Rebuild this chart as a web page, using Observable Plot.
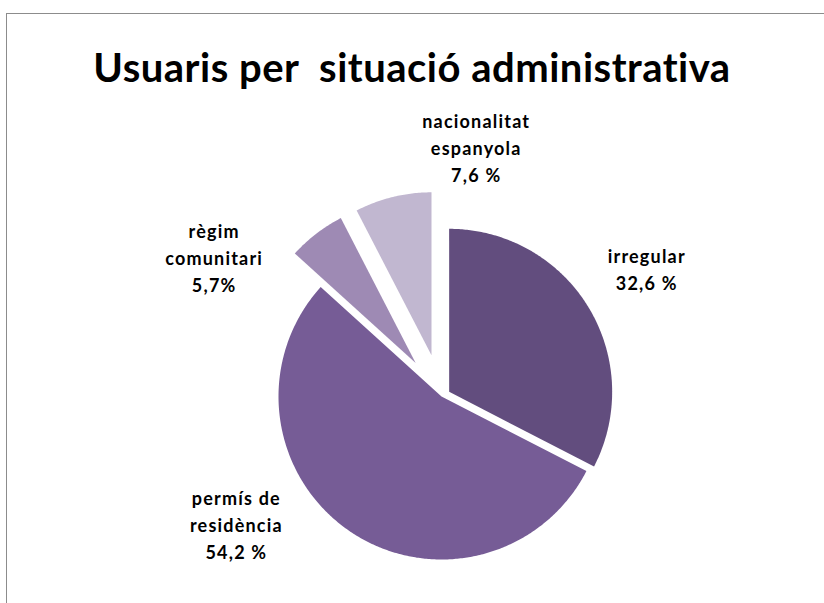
<!DOCTYPE html>
<html>
<head>
<meta charset="utf-8">
<script src="https://cdn.jsdelivr.net/npm/d3@7"></script>
<script src="https://cdn.jsdelivr.net/npm/@observablehq/plot@0.6"></script>
<style>
  html, body { margin: 0; padding: 0; background: #fff; }
  #wrap { position: relative; width: 824px; height: 603px; overflow: hidden; background: #fff; }
  #frame { position: absolute; left: 6px; top: 13px; width: 1000px; height: 1000px;
           border: 1.5px solid #8c8c8c; box-sizing: border-box; }
  #title { position: absolute; left: 0; width: 824px; top: 44px; text-align: center;
           font-family: Lato, sans-serif; font-weight: 700; font-size: 40px; color: #000;
           white-space: pre; line-height: 46px; letter-spacing: 0.5px; }
  #chart { position: absolute; left: 0; top: 0; }
  #chart svg text { letter-spacing: 1.2px; }
</style>
</head>
<body>
<div id="wrap">
  <div id="frame"></div>
  <div id="chart"></div>
  <div id="title"></div>
</div>
<script>
// ---- data ----
const titleText = "Usuaris per  situació administrativa";
const categories = ["irregular", "permís de\nresidència", "règim\ncomunitari", "nacionalitat\nespanyola"];
const values = [32.6, 54.2, 5.7, 7.6];
const valueLabels = ["32,6 %", "54,2 %", "5,7%", "7,6 %"];

// ---- style / layout ----
const colors = ["#624d7e", "#765c96", "#9e8ab4", "#c1b7d0"];
const explode = [0.055, 0, 0.26, 0.26];            // in radius units
const labelNudge = [[0, 0.02], [-0.45, 0.39], [-0.37, -0.47], [0.61, -0.10]]; // radius units (x right, y up)
const W = 824, H = 603, R = 163, CX = 441, CY = 396;

document.getElementById("title").textContent = titleText;

const pie = d3.pie().sort(null).value(d => d)(values);
const polys = [];
const labels = [];
pie.forEach((p, i) => {
  const m = (p.startAngle + p.endAngle) / 2;
  const ox = Math.sin(m) * explode[i], oy = Math.cos(m) * explode[i];
  polys.push({name: categories[i], x: ox, y: oy});
  const n = Math.max(8, Math.ceil((p.endAngle - p.startAngle) / 0.01));
  for (let k = 0; k <= n; k++) {
    const a = p.startAngle + (p.endAngle - p.startAngle) * k / n;
    polys.push({name: categories[i], x: ox + Math.sin(a), y: oy + Math.cos(a)});
  }
  labels.push({
    text: categories[i] + "\n" + valueLabels[i],
    x: ox + Math.sin(m) * 1.42 + labelNudge[i][0],
    y: oy + Math.cos(m) * 1.42 + labelNudge[i][1]
  });
});

const chart = Plot.plot({
  width: W, height: H,
  margin: 0,
  x: {domain: [-CX / R, (W - CX) / R], range: [0, W], axis: null},
  y: {domain: [-(H - CY) / R, CY / R], range: [H, 0], axis: null},
  color: {domain: categories, range: colors},
  marks: [
    Plot.line(polys, {x: "x", y: "y", z: "name", fill: "name", stroke: null, curve: "linear-closed"}),
    Plot.text(labels, {x: "x", y: "y", text: "text", fontSize: 18, fontWeight: 700,
      fontFamily: "Lato, sans-serif", fill: "#000", lineHeight: 1.5, lineAnchor: "middle", textAnchor: "middle"})
  ]
});
document.getElementById("chart").appendChild(chart);
</script>
</body>
</html>
